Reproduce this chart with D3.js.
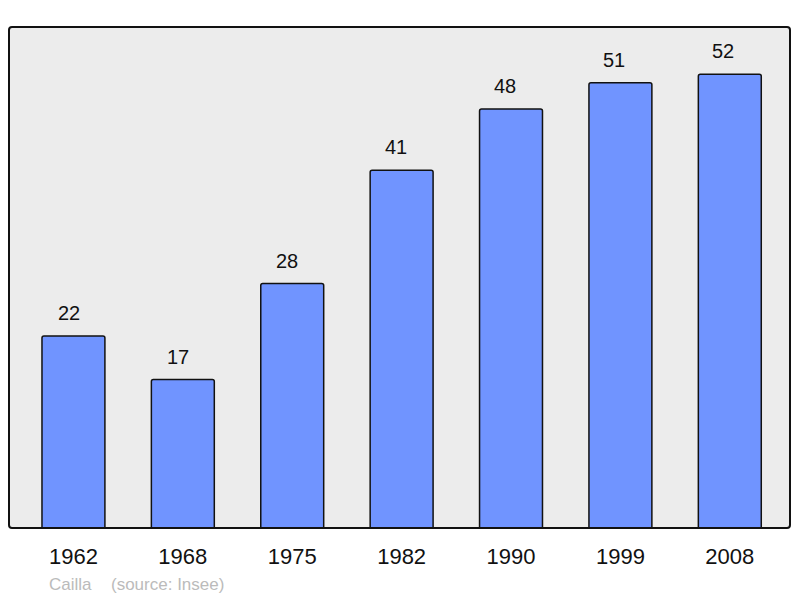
<!DOCTYPE html>
<html>
<head>
<meta charset="utf-8">
<script src="https://d3js.org/d3.v7.min.js"></script>
<style>
  body { margin: 0; background: #fff; }
  text { font-family: "Liberation Sans", Arial, sans-serif; }
</style>
</head>
<body>
<div id="chart"></div>
<script>
var years = ["1962", "1968", "1975", "1982", "1990", "1999", "2008"];
var population = [22, 17, 28, 41, 48, 51, 52];

var svgWidth = 800;
var svgHeight = 598;
var frame = { left: 9, top: 27, right: 790, bottom: 528 };

var svg = d3.select("#chart")
  .append("svg")
  .attr("width", svgWidth)
  .attr("height", svgHeight);

svg.append("clipPath")
  .attr("id", "plotclip")
  .append("rect")
  .attr("x", frame.left)
  .attr("y", frame.top)
  .attr("width", frame.right - frame.left)
  .attr("height", frame.bottom - frame.top);

// plot background
svg.append("rect")
  .attr("x", frame.left)
  .attr("y", frame.top)
  .attr("width", frame.right - frame.left)
  .attr("height", frame.bottom - frame.top)
  .attr("rx", 3)
  .attr("fill", "#ececec");

var x = d3.scaleBand()
  .domain(years)
  .range([18.75, 784.5])
  .paddingInner(0.4247)
  .paddingOuter(0.21235);

// value labels sit slightly left of the bar centres, as in the original
var xLabel = d3.scalePoint()
  .domain(years)
  .range([69, 723]);

var y = d3.scaleLinear()
  .domain([0, 57.4])
  .range([frame.bottom, frame.top]);

var data = years.map(function(d, i) { return { year: d, value: population[i] }; });

svg.append("g")
  .attr("clip-path", "url(#plotclip)")
  .selectAll(".bar")
  .data(data)
  .enter()
  .append("rect")
  .attr("class", "bar")
  .attr("x", d => x(d.year))
  .attr("y", d => y(d.value))
  .attr("width", x.bandwidth())
  .attr("height", d => y(0) - y(d.value) + 6)
  .attr("rx", 2)
  .attr("fill", "#7094ff")
  .attr("stroke", "#111")
  .attr("stroke-width", 1.5);

// value labels
svg.selectAll(".val")
  .data(data)
  .enter()
  .append("text")
  .attr("class", "val")
  .attr("x", d => xLabel(d.year))
  .attr("y", d => y(d.value) - 16)
  .attr("text-anchor", "middle")
  .attr("font-size", "20px")
  .attr("fill", "#111")
  .text(d => d.value);

// frame border on top of bars
svg.append("rect")
  .attr("x", frame.left)
  .attr("y", frame.top)
  .attr("width", frame.right - frame.left)
  .attr("height", frame.bottom - frame.top)
  .attr("rx", 3)
  .attr("fill", "none")
  .attr("stroke", "#111")
  .attr("stroke-width", 2);

// year axis
var xAxis = svg.append("g")
  .attr("transform", `translate(0, ${frame.bottom})`)
  .call(d3.axisBottom(x).tickSize(0).tickPadding(0));
xAxis.select(".domain").remove();
xAxis.selectAll("text")
  .attr("y", 36)
  .attr("dy", 0)
  .attr("font-size", "22px")
  .attr("font-family", "Liberation Sans, Arial, sans-serif")
  .attr("fill", "#111");

svg.append("text")
  .attr("x", 49)
  .attr("y", 590)
  .attr("font-size", "17px")
  .attr("fill", "#bbb")
  .text("Cailla");

svg.append("text")
  .attr("x", 111)
  .attr("y", 590)
  .attr("font-size", "17px")
  .attr("fill", "#bbb")
  .text("(source: Insee)");
</script>
</body>
</html>
